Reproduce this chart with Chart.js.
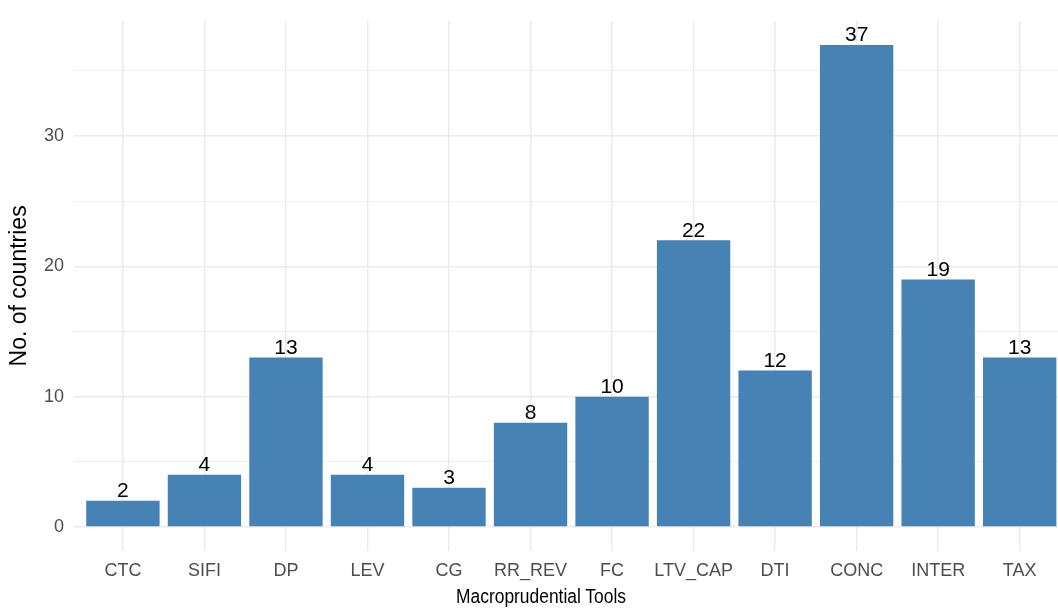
<!DOCTYPE html>
<html>
<head>
<meta charset="utf-8">
<script src="https://cdn.jsdelivr.net/npm/chart.js@4"></script>
<style>
  html, body { margin: 0; padding: 0; background: #fff; overflow: hidden; }
  #wrap { position: relative; width: 1058px; height: 608px; }
  #xtitle {
    position: absolute; left: 0; width: 1082px; top: 585px; line-height: 23px;
    text-align: center; font: 20px "Liberation Sans", Arial, sans-serif; color: #000;
    transform: scaleX(0.87); transform-origin: 541px 0;
  }
</style>
</head>
<body>
<div id="wrap">
  <canvas id="toolsChart" width="1058" height="608"></canvas>
  <div id="xtitle">Macroprudential Tools</div>
</div>
<script>
const categories = ["CTC", "SIFI", "DP", "LEV", "CG", "RR_REV", "FC", "LTV_CAP", "DTI", "CONC", "INTER", "TAX"];
const countries = [2, 4, 13, 4, 3, 8, 10, 22, 12, 37, 19, 13];
const yTicks = [0, 5, 10, 15, 20, 25, 30, 35];

const FONT = '"Liberation Sans", Arial, sans-serif';

// numbers on top of the bars
const barLabels = {
  id: "barLabels",
  afterDatasetsDraw(chart) {
    const ctx = chart.ctx;
    const meta = chart.getDatasetMeta(0);
    ctx.save();
    ctx.font = "21px " + FONT;
    ctx.fillStyle = "#000";
    ctx.textAlign = "center";
    ctx.textBaseline = "bottom";
    meta.data.forEach((bar, i) => {
      ctx.fillText(String(countries[i]), bar.x, bar.y + 1);
    });
    ctx.restore();
  },
};

const ctx = document.getElementById("toolsChart").getContext("2d");
new Chart(ctx, {
  type: "bar",
  data: {
    datasets: [
      {
        data: countries.map((v, i) => ({ x: i + 1, y: v })),
        backgroundColor: "#4682B4",
        borderWidth: 0,
        barPercentage: 0.9,
        categoryPercentage: 1,
      },
    ],
  },
  options: {
    responsive: false,
    animation: false,
    layout: { padding: { top: 18, left: 0, right: 0, bottom: 0 } },
    plugins: {
      legend: { display: false },
      tooltip: { enabled: false },
    },
    scales: {
      x: {
        type: "linear",
        offset: false,
        min: 0.4,
        max: 12.47,
        afterBuildTicks: (scale) => {
          scale.ticks = categories.map((_, i) => ({ value: i + 1 }));
        },
        afterFit: (scale) => {
          scale.height = 57;
        },
        ticks: {
          autoSkip: false,
          maxRotation: 0,
          padding: 9,
          color: "#4D4D4D",
          font: { family: FONT, size: 18 },
          callback: (v) => categories[v - 1],
        },
        grid: { color: "#EBEBEB", lineWidth: 1.5, drawTicks: false, offset: false },
        border: { display: false },
      },
      y: {
        min: -1.85,
        max: 38.85,
        afterBuildTicks: (scale) => {
          scale.ticks = yTicks.map((v) => ({ value: v }));
        },
        afterFit: (scale) => {
          scale.width = 74;
        },
        ticks: {
          padding: 10,
          color: "#4D4D4D",
          font: { family: FONT, size: 18 },
          callback: (v) => (v % 10 === 0 ? v : ""),
        },
        grid: {
          color: "#EBEBEB",
          lineWidth: (c) => (c.tick && c.tick.value % 10 === 0 ? 1.5 : 0.8),
          drawTicks: false,
        },
        border: { display: false },
        title: {
          display: true,
          text: "No. of countries",
          color: "#000",
          font: { family: FONT, size: 23 },
          padding: { top: 6, bottom: 0 },
        },
      },
    },
  },
  plugins: [barLabels],
});
</script>
</body>
</html>
